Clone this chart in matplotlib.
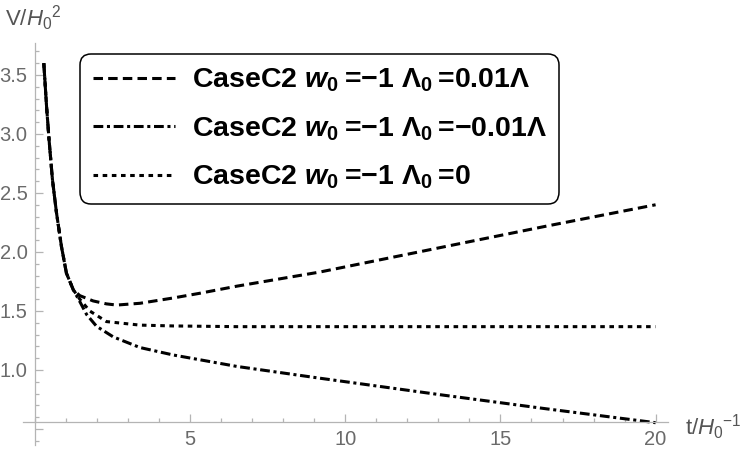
import matplotlib
matplotlib.use("Agg")
import matplotlib.pyplot as plt
from matplotlib.ticker import MultipleLocator, FixedLocator

plt.rcParams['font.family'] = ['Liberation Sans', 'DejaVu Sans']
plt.rcParams['mathtext.fontset'] = 'custom'
plt.rcParams['mathtext.rm'] = 'Liberation Sans'
plt.rcParams['mathtext.it'] = 'Liberation Sans:italic'
plt.rcParams['mathtext.bf'] = 'Liberation Sans:bold'
plt.rcParams['mathtext.bfit'] = 'Liberation Sans:italic:bold'

# values
t_pos = [0.28, 0.37, 0.45, 0.56, 0.69, 0.85, 1.01, 1.23, 1.44, 1.87, 2.3, 2.63,
         3.38, 4.45, 5.31, 6.5, 9.18, 13.3, 16.5, 20.0]
v_pos = [3.60, 3.23, 2.95, 2.61, 2.33, 2.045, 1.82, 1.68, 1.63, 1.585, 1.56, 1.55,
         1.565, 1.61, 1.65, 1.71, 1.83, 2.05, 2.22, 2.40]

t_neg = [0.28, 0.37, 0.45, 0.56, 0.69, 0.85, 1.01, 1.23, 1.44, 1.66, 1.98, 2.52,
         3.38, 4.45, 5.53, 6.5, 9.18, 13.06, 16.5, 20.0]
v_neg = [3.60, 3.23, 2.95, 2.61, 2.33, 2.045, 1.82, 1.68, 1.58, 1.47, 1.37, 1.28,
         1.19, 1.127, 1.076, 1.03, 0.93, 0.79, 0.67, 0.553]

t_zero = [0.28, 0.37, 0.45, 0.56, 0.69, 0.85, 1.01, 1.23, 1.44, 1.76, 2.3, 3.38,
          4.45, 6.5, 10.0, 15.0, 20.0]
v_zero = [3.60, 3.23, 2.95, 2.61, 2.33, 2.045, 1.82, 1.68, 1.60, 1.50, 1.41, 1.38,
          1.373, 1.367, 1.367, 1.367, 1.367]

labels = [r"CaseC2 $\mathbfit{w}_\mathbf{0}\:$=−1 Λ$_\mathbf{0}\:$=0.01Λ",
          r"CaseC2 $\mathbfit{w}_\mathbf{0}\:$=−1 Λ$_\mathbf{0}\:$=−0.01Λ",
          r"CaseC2 $\mathbfit{w}_\mathbf{0}\:$=−1 Λ$_\mathbf{0}\:$=0"]

W, H = 750, 459
fig = plt.figure(figsize=(W / 100, H / 100), dpi=100)
ax = fig.add_axes([22.7 / W, 14 / H, (668 - 22.7) / W, (445 - 43) / H])

lw = 2.2
ax.plot(t_pos, v_pos, color='black', lw=lw, linestyle=(0, (3.1, 1.7)), label=labels[0])
ax.plot(t_neg, v_neg, color='black', lw=lw, linestyle=(0, (3.2, 1.2, 1.0, 1.2)), label=labels[1])
ax.plot(t_zero, v_zero, color='black', lw=lw, linestyle=(0, (1.5, 1.5)), label=labels[2])

ax.set_xlim(-0.4, 20.4)
ax.set_ylim(0.364, 3.771)

axis_gray = '#b4b4b4'
label_gray = '#6a6a6a'
for s in ['top', 'right']:
    ax.spines[s].set_visible(False)
ax.spines['left'].set_position(('data', 0))
ax.spines['bottom'].set_position(('data', 0.559))
for s in ['left', 'bottom']:
    ax.spines[s].set_color(axis_gray)
    ax.spines[s].set_linewidth(0.9)

ax.xaxis.set_major_locator(FixedLocator([5, 10, 15, 20]))
ax.xaxis.set_minor_locator(MultipleLocator(1))
ax.yaxis.set_major_locator(FixedLocator([0.5, 1.0, 1.5, 2.0, 2.5, 3.0, 3.5]))
ax.yaxis.set_minor_locator(MultipleLocator(0.1))
ax.set_xticklabels(['5', '10', '15', '20'])
ax.set_yticklabels(['', '1.0', '1.5', '2.0', '2.5', '3.0', '3.5'])

ax.tick_params(which='both', direction='in', color=axis_gray, width=0.9)
ax.tick_params(which='major', length=5.8, labelsize=14.5, labelcolor=label_gray, pad=5.5)
ax.tick_params(which='minor', length=2.9)

fig.text(5 / W, 1 - 26 / H, r"V/$H_0{}^2$", fontsize=16, color='#555555',
         ha='left', va='baseline')
fig.text(685 / W, 1 - 435 / H, r"t/$H_0{}^{-1}$", fontsize=16, color='#555555',
         ha='left', va='baseline')

leg = ax.legend(loc='upper left', bbox_to_anchor=(80 / W, 1 - 54 / H),
                bbox_transform=fig.transFigure, borderaxespad=0,
                prop={'weight': 'bold', 'size': 20.5}, handlelength=2.88,
                handletextpad=0.6, labelspacing=0.74, borderpad=0.44,
                fancybox=True, framealpha=1)
frame = leg.get_frame()
frame.set_edgecolor('black')
frame.set_linewidth(1.1)
frame.set_boxstyle('round,pad=0,rounding_size=0.4')

fig.savefig('out.png', dpi=100)
